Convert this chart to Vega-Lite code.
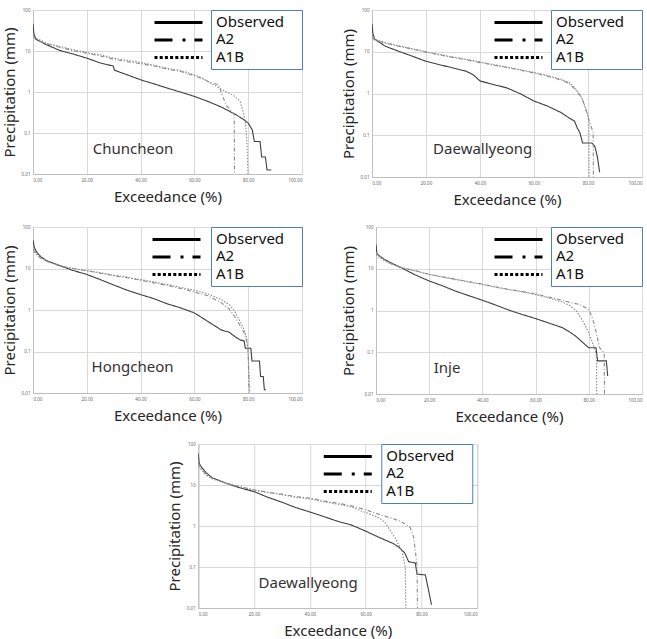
{
  "$schema": "https://vega.github.io/schema/vega-lite/v6.json",
  "background": "white",
  "padding": {"left": 1, "top": 6, "right": 0, "bottom": 0},
  "spacing": 15,
  "center": true,
  "resolve": {"scale": {"color": "independent", "strokeDash": "independent"}, "legend": {"color": "independent", "strokeDash": "independent"}},
  "config": {
    "font": "Noto Sans",
    "view": {"stroke": "#bfbfbf", "strokeWidth": 1},
    "axis": {"domainColor": "#bfbfbf", "gridColor": "#d9d9d9", "ticks": false, "labelOverlap": false, "labelFontSize": 4.5, "labelColor": "#666666", "labelPadding": 3, "titleFontSize": 15, "titleFontWeight": "normal", "titleColor": "#262626"},
    "axisX": {"titlePadding": 8},
    "axisY": {"titlePadding": 4},
    "legend": {"labelFont": "Noto Sans", "labelFontSize": 15, "labelColor": "#111111", "rowPadding": 1.5}
  },
  "datasets": {
    "curves": [
      {"p":1,"s":"Observed","x":0,"y":46},{"p":1,"s":"Observed","x":0.3,"y":27},{"p":1,"s":"Observed","x":1,"y":19.5},{"p":1,"s":"Observed","x":5,"y":14.2},{"p":1,"s":"Observed","x":10,"y":10.3},{"p":1,"s":"Observed","x":15,"y":8.4},{"p":1,"s":"Observed","x":20,"y":6.7},{"p":1,"s":"Observed","x":25,"y":5.1},{"p":1,"s":"Observed","x":29.8,"y":4.3},{"p":1,"s":"Observed","x":30.3,"y":3.4},{"p":1,"s":"Observed","x":35,"y":2.63},{"p":1,"s":"Observed","x":40,"y":1.98},{"p":1,"s":"Observed","x":45,"y":1.58},{"p":1,"s":"Observed","x":50,"y":1.24},{"p":1,"s":"Observed","x":55,"y":0.99},{"p":1,"s":"Observed","x":60,"y":0.78},{"p":1,"s":"Observed","x":65,"y":0.59},{"p":1,"s":"Observed","x":70,"y":0.43},{"p":1,"s":"Observed","x":75,"y":0.29},{"p":1,"s":"Observed","x":78,"y":0.22},{"p":1,"s":"Observed","x":80,"y":0.175},{"p":1,"s":"Observed","x":81.5,"y":0.12},{"p":1,"s":"Observed","x":82.3,"y":0.062},{"p":1,"s":"Observed","x":84.4,"y":0.062},{"p":1,"s":"Observed","x":85,"y":0.026},{"p":1,"s":"Observed","x":86.4,"y":0.026},{"p":1,"s":"Observed","x":87,"y":0.0125},{"p":1,"s":"Observed","x":88.6,"y":0.0125},
      {"p":1,"s":"A2","x":0,"y":24},{"p":1,"s":"A2","x":1,"y":19},{"p":1,"s":"A2","x":5,"y":15},{"p":1,"s":"A2","x":10,"y":12.3},{"p":1,"s":"A2","x":15,"y":10.2},{"p":1,"s":"A2","x":20,"y":8.8},{"p":1,"s":"A2","x":25,"y":7.6},{"p":1,"s":"A2","x":30,"y":6.3},{"p":1,"s":"A2","x":35,"y":5.5},{"p":1,"s":"A2","x":40,"y":4.9},{"p":1,"s":"A2","x":45,"y":4.3},{"p":1,"s":"A2","x":50,"y":3.6},{"p":1,"s":"A2","x":55,"y":3.15},{"p":1,"s":"A2","x":60,"y":2.5},{"p":1,"s":"A2","x":63,"y":2.1},{"p":1,"s":"A2","x":66,"y":1.7},{"p":1,"s":"A2","x":69,"y":1.5},{"p":1,"s":"A2","x":70.5,"y":0.78},{"p":1,"s":"A2","x":72,"y":0.46},{"p":1,"s":"A2","x":74,"y":0.33},{"p":1,"s":"A2","x":74.8,"y":0.28},{"p":1,"s":"A2","x":74.9,"y":0.01},
      {"p":1,"s":"A1B","x":0,"y":27},{"p":1,"s":"A1B","x":1,"y":21},{"p":1,"s":"A1B","x":5,"y":15.5},{"p":1,"s":"A1B","x":10,"y":12.9},{"p":1,"s":"A1B","x":15,"y":10.7},{"p":1,"s":"A1B","x":20,"y":9.2},{"p":1,"s":"A1B","x":25,"y":8.1},{"p":1,"s":"A1B","x":30,"y":6.7},{"p":1,"s":"A1B","x":35,"y":5.9},{"p":1,"s":"A1B","x":40,"y":5.25},{"p":1,"s":"A1B","x":45,"y":4.5},{"p":1,"s":"A1B","x":50,"y":3.8},{"p":1,"s":"A1B","x":55,"y":3.35},{"p":1,"s":"A1B","x":60,"y":2.6},{"p":1,"s":"A1B","x":63,"y":2.2},{"p":1,"s":"A1B","x":66,"y":1.65},{"p":1,"s":"A1B","x":70,"y":1.17},{"p":1,"s":"A1B","x":73,"y":0.93},{"p":1,"s":"A1B","x":75,"y":0.78},{"p":1,"s":"A1B","x":77,"y":0.59},{"p":1,"s":"A1B","x":78.3,"y":0.3},{"p":1,"s":"A1B","x":79,"y":0.17},{"p":1,"s":"A1B","x":79.5,"y":0.068},{"p":1,"s":"A1B","x":79.9,"y":0.01},

      {"p":2,"s":"Observed","x":0,"y":47},{"p":2,"s":"Observed","x":0.3,"y":28},{"p":2,"s":"Observed","x":1,"y":20},{"p":2,"s":"Observed","x":5,"y":13.5},{"p":2,"s":"Observed","x":10,"y":10.2},{"p":2,"s":"Observed","x":15,"y":7.8},{"p":2,"s":"Observed","x":20,"y":5.9},{"p":2,"s":"Observed","x":25,"y":4.9},{"p":2,"s":"Observed","x":30,"y":4.1},{"p":2,"s":"Observed","x":35,"y":3.4},{"p":2,"s":"Observed","x":37.5,"y":2.8},{"p":2,"s":"Observed","x":40,"y":2.0},{"p":2,"s":"Observed","x":45,"y":1.64},{"p":2,"s":"Observed","x":50,"y":1.36},{"p":2,"s":"Observed","x":55,"y":0.98},{"p":2,"s":"Observed","x":60,"y":0.66},{"p":2,"s":"Observed","x":65,"y":0.5},{"p":2,"s":"Observed","x":70,"y":0.35},{"p":2,"s":"Observed","x":73,"y":0.26},{"p":2,"s":"Observed","x":75,"y":0.22},{"p":2,"s":"Observed","x":76,"y":0.15},{"p":2,"s":"Observed","x":77,"y":0.115},{"p":2,"s":"Observed","x":78,"y":0.065},{"p":2,"s":"Observed","x":81.5,"y":0.065},{"p":2,"s":"Observed","x":82.5,"y":0.055},{"p":2,"s":"Observed","x":83.5,"y":0.03},{"p":2,"s":"Observed","x":84.3,"y":0.013},
      {"p":2,"s":"A2","x":0,"y":22},{"p":2,"s":"A2","x":1,"y":19},{"p":2,"s":"A2","x":5,"y":16},{"p":2,"s":"A2","x":10,"y":13.5},{"p":2,"s":"A2","x":15,"y":11.5},{"p":2,"s":"A2","x":20,"y":9.8},{"p":2,"s":"A2","x":25,"y":8.4},{"p":2,"s":"A2","x":30,"y":7.3},{"p":2,"s":"A2","x":35,"y":6.4},{"p":2,"s":"A2","x":40,"y":5.5},{"p":2,"s":"A2","x":45,"y":4.8},{"p":2,"s":"A2","x":50,"y":4.2},{"p":2,"s":"A2","x":55,"y":3.6},{"p":2,"s":"A2","x":60,"y":3.1},{"p":2,"s":"A2","x":65,"y":2.6},{"p":2,"s":"A2","x":70,"y":2.1},{"p":2,"s":"A2","x":73,"y":1.75},{"p":2,"s":"A2","x":75,"y":1.3},{"p":2,"s":"A2","x":77,"y":0.9},{"p":2,"s":"A2","x":78,"y":0.7},{"p":2,"s":"A2","x":79,"y":0.45},{"p":2,"s":"A2","x":80,"y":0.28},{"p":2,"s":"A2","x":81,"y":0.17},{"p":2,"s":"A2","x":81.9,"y":0.12},{"p":2,"s":"A2","x":82,"y":0.01},
      {"p":2,"s":"A1B","x":0,"y":25},{"p":2,"s":"A1B","x":1,"y":20},{"p":2,"s":"A1B","x":5,"y":16.5},{"p":2,"s":"A1B","x":10,"y":13.8},{"p":2,"s":"A1B","x":15,"y":11.8},{"p":2,"s":"A1B","x":20,"y":10},{"p":2,"s":"A1B","x":25,"y":8.6},{"p":2,"s":"A1B","x":30,"y":7.5},{"p":2,"s":"A1B","x":35,"y":6.6},{"p":2,"s":"A1B","x":40,"y":5.7},{"p":2,"s":"A1B","x":45,"y":4.9},{"p":2,"s":"A1B","x":50,"y":4.3},{"p":2,"s":"A1B","x":55,"y":3.7},{"p":2,"s":"A1B","x":60,"y":3.2},{"p":2,"s":"A1B","x":65,"y":2.7},{"p":2,"s":"A1B","x":70,"y":2.2},{"p":2,"s":"A1B","x":73,"y":1.85},{"p":2,"s":"A1B","x":75,"y":1.4},{"p":2,"s":"A1B","x":77,"y":0.95},{"p":2,"s":"A1B","x":78,"y":0.72},{"p":2,"s":"A1B","x":79,"y":0.46},{"p":2,"s":"A1B","x":80,"y":0.3},{"p":2,"s":"A1B","x":80.3,"y":0.2},{"p":2,"s":"A1B","x":80.4,"y":0.01},

      {"p":3,"s":"Observed","x":0,"y":48},{"p":3,"s":"Observed","x":0.5,"y":32},{"p":3,"s":"Observed","x":1.5,"y":24},{"p":3,"s":"Observed","x":3,"y":19},{"p":3,"s":"Observed","x":5,"y":15.5},{"p":3,"s":"Observed","x":10,"y":11.7},{"p":3,"s":"Observed","x":15,"y":8.9},{"p":3,"s":"Observed","x":20,"y":7.2},{"p":3,"s":"Observed","x":25,"y":5.4},{"p":3,"s":"Observed","x":30,"y":4.0},{"p":3,"s":"Observed","x":35,"y":3.0},{"p":3,"s":"Observed","x":40,"y":2.35},{"p":3,"s":"Observed","x":45,"y":1.87},{"p":3,"s":"Observed","x":50,"y":1.4},{"p":3,"s":"Observed","x":55,"y":1.12},{"p":3,"s":"Observed","x":60,"y":0.85},{"p":3,"s":"Observed","x":65,"y":0.53},{"p":3,"s":"Observed","x":70,"y":0.33},{"p":3,"s":"Observed","x":73,"y":0.29},{"p":3,"s":"Observed","x":75,"y":0.23},{"p":3,"s":"Observed","x":77,"y":0.19},{"p":3,"s":"Observed","x":78.5,"y":0.18},{"p":3,"s":"Observed","x":78.9,"y":0.12},{"p":3,"s":"Observed","x":81,"y":0.12},{"p":3,"s":"Observed","x":81.4,"y":0.059},{"p":3,"s":"Observed","x":84.2,"y":0.059},{"p":3,"s":"Observed","x":84.6,"y":0.025},{"p":3,"s":"Observed","x":85.6,"y":0.025},{"p":3,"s":"Observed","x":86,"y":0.012},{"p":3,"s":"Observed","x":86.6,"y":0.012},
      {"p":3,"s":"A2","x":0,"y":29},{"p":3,"s":"A2","x":1,"y":22},{"p":3,"s":"A2","x":3,"y":17.5},{"p":3,"s":"A2","x":5,"y":15},{"p":3,"s":"A2","x":10,"y":11.5},{"p":3,"s":"A2","x":15,"y":10},{"p":3,"s":"A2","x":20,"y":8.8},{"p":3,"s":"A2","x":25,"y":7.7},{"p":3,"s":"A2","x":30,"y":6.7},{"p":3,"s":"A2","x":35,"y":6.0},{"p":3,"s":"A2","x":40,"y":5.2},{"p":3,"s":"A2","x":45,"y":4.5},{"p":3,"s":"A2","x":50,"y":3.9},{"p":3,"s":"A2","x":55,"y":3.3},{"p":3,"s":"A2","x":60,"y":2.7},{"p":3,"s":"A2","x":65,"y":2.2},{"p":3,"s":"A2","x":70,"y":1.5},{"p":3,"s":"A2","x":73,"y":1.05},{"p":3,"s":"A2","x":75,"y":0.7},{"p":3,"s":"A2","x":77,"y":0.42},{"p":3,"s":"A2","x":78.5,"y":0.28},{"p":3,"s":"A2","x":79.5,"y":0.17},{"p":3,"s":"A2","x":80,"y":0.1},{"p":3,"s":"A2","x":80.3,"y":0.01},
      {"p":3,"s":"A1B","x":0,"y":35},{"p":3,"s":"A1B","x":1,"y":24},{"p":3,"s":"A1B","x":3,"y":18},{"p":3,"s":"A1B","x":5,"y":15.5},{"p":3,"s":"A1B","x":10,"y":11.5},{"p":3,"s":"A1B","x":15,"y":10},{"p":3,"s":"A1B","x":20,"y":8.9},{"p":3,"s":"A1B","x":25,"y":7.9},{"p":3,"s":"A1B","x":30,"y":6.9},{"p":3,"s":"A1B","x":35,"y":6.2},{"p":3,"s":"A1B","x":40,"y":5.4},{"p":3,"s":"A1B","x":45,"y":4.75},{"p":3,"s":"A1B","x":50,"y":4.1},{"p":3,"s":"A1B","x":55,"y":3.5},{"p":3,"s":"A1B","x":60,"y":3.0},{"p":3,"s":"A1B","x":65,"y":2.45},{"p":3,"s":"A1B","x":70,"y":1.78},{"p":3,"s":"A1B","x":73,"y":1.35},{"p":3,"s":"A1B","x":75,"y":0.93},{"p":3,"s":"A1B","x":77,"y":0.53},{"p":3,"s":"A1B","x":78.5,"y":0.33},{"p":3,"s":"A1B","x":79.5,"y":0.21},{"p":3,"s":"A1B","x":80,"y":0.08},{"p":3,"s":"A1B","x":80.6,"y":0.01},

      {"p":4,"s":"Observed","x":0,"y":38},{"p":4,"s":"Observed","x":0.3,"y":24},{"p":4,"s":"Observed","x":1,"y":21},{"p":4,"s":"Observed","x":3,"y":17},{"p":4,"s":"Observed","x":5,"y":14.5},{"p":4,"s":"Observed","x":9.6,"y":10.5},{"p":4,"s":"Observed","x":15,"y":7.0},{"p":4,"s":"Observed","x":20,"y":5.1},{"p":4,"s":"Observed","x":25,"y":3.9},{"p":4,"s":"Observed","x":30,"y":2.9},{"p":4,"s":"Observed","x":35,"y":2.25},{"p":4,"s":"Observed","x":40,"y":1.76},{"p":4,"s":"Observed","x":45,"y":1.35},{"p":4,"s":"Observed","x":50,"y":1.02},{"p":4,"s":"Observed","x":55,"y":0.8},{"p":4,"s":"Observed","x":60,"y":0.64},{"p":4,"s":"Observed","x":65,"y":0.5},{"p":4,"s":"Observed","x":70,"y":0.39},{"p":4,"s":"Observed","x":72,"y":0.33},{"p":4,"s":"Observed","x":75,"y":0.245},{"p":4,"s":"Observed","x":77,"y":0.19},{"p":4,"s":"Observed","x":78,"y":0.165},{"p":4,"s":"Observed","x":80,"y":0.128},{"p":4,"s":"Observed","x":82.7,"y":0.128},{"p":4,"s":"Observed","x":83.3,"y":0.062},{"p":4,"s":"Observed","x":86.6,"y":0.062},{"p":4,"s":"Observed","x":87.1,"y":0.027},
      {"p":4,"s":"A2","x":0,"y":25},{"p":4,"s":"A2","x":1,"y":21},{"p":4,"s":"A2","x":3,"y":16.5},{"p":4,"s":"A2","x":5,"y":14},{"p":4,"s":"A2","x":9.6,"y":10.7},{"p":4,"s":"A2","x":15,"y":8.9},{"p":4,"s":"A2","x":20,"y":7.4},{"p":4,"s":"A2","x":25,"y":6.4},{"p":4,"s":"A2","x":30,"y":5.6},{"p":4,"s":"A2","x":35,"y":4.9},{"p":4,"s":"A2","x":40,"y":4.3},{"p":4,"s":"A2","x":45,"y":3.7},{"p":4,"s":"A2","x":50,"y":3.2},{"p":4,"s":"A2","x":55,"y":2.85},{"p":4,"s":"A2","x":60,"y":2.5},{"p":4,"s":"A2","x":65,"y":2.1},{"p":4,"s":"A2","x":70,"y":1.75},{"p":4,"s":"A2","x":73,"y":1.55},{"p":4,"s":"A2","x":76.5,"y":1.4},{"p":4,"s":"A2","x":78.5,"y":1.2},{"p":4,"s":"A2","x":80.2,"y":1.0},{"p":4,"s":"A2","x":81,"y":0.75},{"p":4,"s":"A2","x":82.1,"y":0.46},{"p":4,"s":"A2","x":83,"y":0.26},{"p":4,"s":"A2","x":84,"y":0.13},{"p":4,"s":"A2","x":85.5,"y":0.1},{"p":4,"s":"A2","x":85.8,"y":0.09},{"p":4,"s":"A2","x":85.9,"y":0.01},
      {"p":4,"s":"A1B","x":0,"y":22},{"p":4,"s":"A1B","x":1,"y":19},{"p":4,"s":"A1B","x":3,"y":16},{"p":4,"s":"A1B","x":5,"y":13.5},{"p":4,"s":"A1B","x":9.6,"y":10.5},{"p":4,"s":"A1B","x":15,"y":8.8},{"p":4,"s":"A1B","x":20,"y":7.3},{"p":4,"s":"A1B","x":25,"y":6.3},{"p":4,"s":"A1B","x":30,"y":5.5},{"p":4,"s":"A1B","x":35,"y":4.8},{"p":4,"s":"A1B","x":40,"y":4.2},{"p":4,"s":"A1B","x":45,"y":3.6},{"p":4,"s":"A1B","x":50,"y":3.15},{"p":4,"s":"A1B","x":55,"y":2.8},{"p":4,"s":"A1B","x":60,"y":2.4},{"p":4,"s":"A1B","x":65,"y":2.0},{"p":4,"s":"A1B","x":70,"y":1.6},{"p":4,"s":"A1B","x":73,"y":1.3},{"p":4,"s":"A1B","x":75.2,"y":1.0},{"p":4,"s":"A1B","x":77.7,"y":0.57},{"p":4,"s":"A1B","x":80.2,"y":0.27},{"p":4,"s":"A1B","x":82.1,"y":0.128},{"p":4,"s":"A1B","x":82.9,"y":0.08},{"p":4,"s":"A1B","x":83,"y":0.01},

      {"p":5,"s":"Observed","x":0,"y":59},{"p":5,"s":"Observed","x":0.3,"y":34},{"p":5,"s":"Observed","x":1,"y":28},{"p":5,"s":"Observed","x":3,"y":19.5},{"p":5,"s":"Observed","x":5,"y":15},{"p":5,"s":"Observed","x":10,"y":11},{"p":5,"s":"Observed","x":15,"y":8.5},{"p":5,"s":"Observed","x":20,"y":6.9},{"p":5,"s":"Observed","x":25,"y":5.0},{"p":5,"s":"Observed","x":30,"y":3.8},{"p":5,"s":"Observed","x":35,"y":2.8},{"p":5,"s":"Observed","x":40,"y":2.2},{"p":5,"s":"Observed","x":45,"y":1.7},{"p":5,"s":"Observed","x":50,"y":1.3},{"p":5,"s":"Observed","x":55,"y":1.05},{"p":5,"s":"Observed","x":60,"y":0.75},{"p":5,"s":"Observed","x":65,"y":0.52},{"p":5,"s":"Observed","x":70,"y":0.37},{"p":5,"s":"Observed","x":72,"y":0.3},{"p":5,"s":"Observed","x":74,"y":0.22},{"p":5,"s":"Observed","x":75.4,"y":0.135},{"p":5,"s":"Observed","x":77.8,"y":0.125},{"p":5,"s":"Observed","x":78.4,"y":0.067},{"p":5,"s":"Observed","x":81.4,"y":0.064},{"p":5,"s":"Observed","x":82.6,"y":0.026},{"p":5,"s":"Observed","x":83.6,"y":0.012},
      {"p":5,"s":"A2","x":0,"y":34},{"p":5,"s":"A2","x":1,"y":25.5},{"p":5,"s":"A2","x":3,"y":17.7},{"p":5,"s":"A2","x":5,"y":14.6},{"p":5,"s":"A2","x":10,"y":11},{"p":5,"s":"A2","x":15,"y":9.1},{"p":5,"s":"A2","x":20,"y":7.6},{"p":5,"s":"A2","x":25,"y":6.7},{"p":5,"s":"A2","x":30,"y":6.0},{"p":5,"s":"A2","x":35,"y":5.2},{"p":5,"s":"A2","x":40,"y":4.8},{"p":5,"s":"A2","x":45,"y":4.1},{"p":5,"s":"A2","x":50,"y":3.6},{"p":5,"s":"A2","x":55,"y":3.1},{"p":5,"s":"A2","x":60,"y":2.5},{"p":5,"s":"A2","x":65,"y":1.9},{"p":5,"s":"A2","x":70,"y":1.5},{"p":5,"s":"A2","x":73,"y":1.25},{"p":5,"s":"A2","x":76,"y":0.92},{"p":5,"s":"A2","x":77.2,"y":0.53},{"p":5,"s":"A2","x":77.8,"y":0.25},{"p":5,"s":"A2","x":78.4,"y":0.11},{"p":5,"s":"A2","x":78.6,"y":0.01},
      {"p":5,"s":"A1B","x":0,"y":28},{"p":5,"s":"A1B","x":1,"y":24},{"p":5,"s":"A1B","x":3,"y":17},{"p":5,"s":"A1B","x":5,"y":14.3},{"p":5,"s":"A1B","x":10,"y":11},{"p":5,"s":"A1B","x":15,"y":9},{"p":5,"s":"A1B","x":20,"y":7.5},{"p":5,"s":"A1B","x":25,"y":6.5},{"p":5,"s":"A1B","x":30,"y":5.8},{"p":5,"s":"A1B","x":35,"y":5.0},{"p":5,"s":"A1B","x":40,"y":4.6},{"p":5,"s":"A1B","x":45,"y":3.9},{"p":5,"s":"A1B","x":50,"y":3.4},{"p":5,"s":"A1B","x":55,"y":2.9},{"p":5,"s":"A1B","x":58.6,"y":2.3},{"p":5,"s":"A1B","x":62,"y":1.9},{"p":5,"s":"A1B","x":65,"y":1.55},{"p":5,"s":"A1B","x":67,"y":1.2},{"p":5,"s":"A1B","x":70.5,"y":0.52},{"p":5,"s":"A1B","x":73,"y":0.25},{"p":5,"s":"A1B","x":74.2,"y":0.1},{"p":5,"s":"A1B","x":74.4,"y":0.01}
    ]
  },
  "vconcat": [
    {
      "hconcat": [
        {
          "width": 269, "height": 164,
          "resolve": {"scale": {"strokeDash": "independent"}, "legend": {"strokeDash": "independent"}},
          "layer": [
            {
              "data": {"name": "curves"},
              "transform": [{"filter": "datum.p == 1"}],
              "mark": {"type": "line", "clip": true, "strokeWidth": 1.1},
              "encoding": {
                "x": {"field": "x", "type": "quantitative", "scale": {"domain": [0, 100], "nice": false}, "axis": {"values": [0,10,20,30,40,50,60,70,80,90,100], "format": ".2f", "title": "Exceedance (%)"}},
                "y": {"field": "y", "type": "quantitative", "scale": {"type": "log", "domain": [0.01, 100]}, "axis": {"values": [0.01,0.1,1,10,100], "format": "~g", "title": "Precipitation (mm)"}},
                "color": {"field": "s", "type": "nominal", "scale": {"domain": ["Observed","A2","A1B"], "range": ["#3f3f3f","#8c8c8c","#8c8c8c"]},
                  "legend": {"title": null, "orient": "top-right", "offset": 0, "padding": 4, "symbolType": "circle", "symbolSize": 4, "symbolOpacity": 0, "symbolStrokeWidth": 0, "symbolOffset": 74, "labelOffset": -88, "strokeColor": "#4f7fbf", "fillColor": "white"}},
                "strokeDash": {"field": "s", "type": "nominal", "scale": {"domain": ["Observed","A2","A1B"], "range": [[1,0],[4,2,1,2],[1.5,1.5]]}, "legend": null}
              }
            },
            {
              "data": {"name": "curves"},
              "transform": [{"filter": "false"}],
              "mark": {"type": "line", "color": "black", "strokeWidth": 3},
              "encoding": {
                "x": {"field": "x", "type": "quantitative"},
                "y": {"field": "y", "type": "quantitative"},
                "strokeDash": {"field": "s", "type": "nominal", "scale": {"domain": ["Observed","A2","A1B"], "range": [[1,0],[18,10,3,9],[3,2.2]]},
                  "legend": {"title": null, "orient": "none", "legendX": 138, "legendY": 5, "padding": 0, "symbolType": "M-6,0H6", "symbolSize": 64, "symbolStrokeWidth": 3, "symbolStrokeColor": "black", "symbolFillColor": "transparent", "labelExpr": "''"}}
              }
            },
            {
              "data": {"values": [{"station": "Chuncheon"}]},
              "mark": {"type": "text", "fontSize": 15, "color": "#333333"},
              "encoding": {"x": {"datum": 37.2}, "y": {"datum": 0.041}, "text": {"field": "station"}}
            }
          ]
        },
        {
          "width": 270, "height": 167,
          "resolve": {"scale": {"strokeDash": "independent"}, "legend": {"strokeDash": "independent"}},
          "layer": [
            {
              "data": {"name": "curves"},
              "transform": [{"filter": "datum.p == 2"}],
              "mark": {"type": "line", "clip": true, "strokeWidth": 1.1},
              "encoding": {
                "x": {"field": "x", "type": "quantitative", "scale": {"domain": [0, 100], "nice": false}, "axis": {"values": [0,10,20,30,40,50,60,70,80,90,100], "format": ".2f", "title": "Exceedance (%)"}},
                "y": {"field": "y", "type": "quantitative", "scale": {"type": "log", "domain": [0.01, 100]}, "axis": {"values": [0.01,0.1,1,10,100], "format": "~g", "title": "Precipitation (mm)"}},
                "color": {"field": "s", "type": "nominal", "scale": {"domain": ["Observed","A2","A1B"], "range": ["#3f3f3f","#8c8c8c","#8c8c8c"]},
                  "legend": {"title": null, "orient": "top-right", "offset": 0, "padding": 4, "symbolType": "circle", "symbolSize": 4, "symbolOpacity": 0, "symbolStrokeWidth": 0, "symbolOffset": 74, "labelOffset": -88, "strokeColor": "#4f7fbf", "fillColor": "white"}},
                "strokeDash": {"field": "s", "type": "nominal", "scale": {"domain": ["Observed","A2","A1B"], "range": [[1,0],[4,2,1,2],[1.5,1.5]]}, "legend": null}
              }
            },
            {
              "data": {"name": "curves"},
              "transform": [{"filter": "false"}],
              "mark": {"type": "line", "color": "black", "strokeWidth": 3},
              "encoding": {
                "x": {"field": "x", "type": "quantitative"},
                "y": {"field": "y", "type": "quantitative"},
                "strokeDash": {"field": "s", "type": "nominal", "scale": {"domain": ["Observed","A2","A1B"], "range": [[1,0],[18,10,3,9],[3,2.2]]},
                  "legend": {"title": null, "orient": "none", "legendX": 139, "legendY": 5, "padding": 0, "symbolType": "M-6,0H6", "symbolSize": 64, "symbolStrokeWidth": 3, "symbolStrokeColor": "black", "symbolFillColor": "transparent", "labelExpr": "''"}}
              }
            },
            {
              "data": {"values": [{"station": "Daewallyeong"}]},
              "mark": {"type": "text", "fontSize": 15, "color": "#333333"},
              "encoding": {"x": {"datum": 41}, "y": {"datum": 0.047}, "text": {"field": "station"}}
            }
          ]
        }
      ],
      "spacing": 37,
      "resolve": {"scale": {"color": "independent", "strokeDash": "independent"}, "legend": {"color": "independent", "strokeDash": "independent"}}
    },
    {
      "hconcat": [
        {
          "width": 269, "height": 166,
          "resolve": {"scale": {"strokeDash": "independent"}, "legend": {"strokeDash": "independent"}},
          "layer": [
            {
              "data": {"name": "curves"},
              "transform": [{"filter": "datum.p == 3"}],
              "mark": {"type": "line", "clip": true, "strokeWidth": 1.1},
              "encoding": {
                "x": {"field": "x", "type": "quantitative", "scale": {"domain": [0, 100], "nice": false}, "axis": {"values": [0,10,20,30,40,50,60,70,80,90,100], "format": ".2f", "title": "Exceedance (%)"}},
                "y": {"field": "y", "type": "quantitative", "scale": {"type": "log", "domain": [0.01, 100]}, "axis": {"values": [0.01,0.1,1,10,100], "format": "~g", "title": "Precipitation (mm)"}},
                "color": {"field": "s", "type": "nominal", "scale": {"domain": ["Observed","A2","A1B"], "range": ["#3f3f3f","#8c8c8c","#8c8c8c"]},
                  "legend": {"title": null, "orient": "top-right", "offset": 0, "padding": 4, "symbolType": "circle", "symbolSize": 4, "symbolOpacity": 0, "symbolStrokeWidth": 0, "symbolOffset": 74, "labelOffset": -88, "strokeColor": "#4f7fbf", "fillColor": "white"}},
                "strokeDash": {"field": "s", "type": "nominal", "scale": {"domain": ["Observed","A2","A1B"], "range": [[1,0],[4,2,1,2],[1.5,1.5]]}, "legend": null}
              }
            },
            {
              "data": {"name": "curves"},
              "transform": [{"filter": "false"}],
              "mark": {"type": "line", "color": "black", "strokeWidth": 3},
              "encoding": {
                "x": {"field": "x", "type": "quantitative"},
                "y": {"field": "y", "type": "quantitative"},
                "strokeDash": {"field": "s", "type": "nominal", "scale": {"domain": ["Observed","A2","A1B"], "range": [[1,0],[18,10,3,9],[3,2.2]]},
                  "legend": {"title": null, "orient": "none", "legendX": 136, "legendY": 5, "padding": 0, "symbolType": "M-6,0H6", "symbolSize": 64, "symbolStrokeWidth": 3, "symbolStrokeColor": "black", "symbolFillColor": "transparent", "labelExpr": "''"}}
              }
            },
            {
              "data": {"values": [{"station": "Hongcheon"}]},
              "mark": {"type": "text", "fontSize": 15, "color": "#333333"},
              "encoding": {"x": {"datum": 37}, "y": {"datum": 0.043}, "text": {"field": "station"}}
            }
          ]
        },
        {
          "width": 266, "height": 167,
          "resolve": {"scale": {"strokeDash": "independent"}, "legend": {"strokeDash": "independent"}},
          "layer": [
            {
              "data": {"name": "curves"},
              "transform": [{"filter": "datum.p == 4"}],
              "mark": {"type": "line", "clip": true, "strokeWidth": 1.1},
              "encoding": {
                "x": {"field": "x", "type": "quantitative", "scale": {"domain": [0, 100], "nice": false}, "axis": {"values": [0,10,20,30,40,50,60,70,80,90,100], "format": ".2f", "title": "Exceedance (%)"}},
                "y": {"field": "y", "type": "quantitative", "scale": {"type": "log", "domain": [0.01, 100]}, "axis": {"values": [0.01,0.1,1,10,100], "format": "~g", "title": "Precipitation (mm)", "titlePadding": 8}},
                "color": {"field": "s", "type": "nominal", "scale": {"domain": ["Observed","A2","A1B"], "range": ["#3f3f3f","#8c8c8c","#8c8c8c"]},
                  "legend": {"title": null, "orient": "top-right", "offset": 0, "padding": 4, "symbolType": "circle", "symbolSize": 4, "symbolOpacity": 0, "symbolStrokeWidth": 0, "symbolOffset": 74, "labelOffset": -88, "strokeColor": "#4f7fbf", "fillColor": "white"}},
                "strokeDash": {"field": "s", "type": "nominal", "scale": {"domain": ["Observed","A2","A1B"], "range": [[1,0],[4,2,1,2],[1.5,1.5]]}, "legend": null}
              }
            },
            {
              "data": {"name": "curves"},
              "transform": [{"filter": "false"}],
              "mark": {"type": "line", "color": "black", "strokeWidth": 3},
              "encoding": {
                "x": {"field": "x", "type": "quantitative"},
                "y": {"field": "y", "type": "quantitative"},
                "strokeDash": {"field": "s", "type": "nominal", "scale": {"domain": ["Observed","A2","A1B"], "range": [[1,0],[18,10,3,9],[3,2.2]]},
                  "legend": {"title": null, "orient": "none", "legendX": 135, "legendY": 5, "padding": 0, "symbolType": "M-6,0H6", "symbolSize": 64, "symbolStrokeWidth": 3, "symbolStrokeColor": "black", "symbolFillColor": "transparent", "labelExpr": "''"}}
              }
            },
            {
              "data": {"values": [{"station": "Inje"}]},
              "mark": {"type": "text", "fontSize": 15, "color": "#333333"},
              "encoding": {"x": {"datum": 26.7}, "y": {"datum": 0.043}, "text": {"field": "station"}}
            }
          ]
        }
      ],
      "spacing": 37,
      "resolve": {"scale": {"color": "independent", "strokeDash": "independent"}, "legend": {"color": "independent", "strokeDash": "independent"}}
    },
    {
      "width": 279, "height": 164,
      "resolve": {"scale": {"strokeDash": "independent"}, "legend": {"strokeDash": "independent"}},
      "layer": [
        {
          "data": {"name": "curves"},
          "transform": [{"filter": "datum.p == 5"}],
          "mark": {"type": "line", "clip": true, "strokeWidth": 1.1},
          "encoding": {
            "x": {"field": "x", "type": "quantitative", "scale": {"domain": [0, 100], "nice": false}, "axis": {"values": [0,10,20,30,40,50,60,70,80,90,100], "format": ".2f", "title": "Exceedance (%)"}},
            "y": {"field": "y", "type": "quantitative", "scale": {"type": "log", "domain": [0.01, 100]}, "axis": {"values": [0.01,0.1,1,10,100], "format": "~g", "title": "Precipitation (mm)"}},
            "color": {"field": "s", "type": "nominal", "scale": {"domain": ["Observed","A2","A1B"], "range": ["#3f3f3f","#8c8c8c","#8c8c8c"]},
              "legend": {"title": null, "orient": "none", "legendX": 183, "legendY": 0, "padding": 4, "symbolType": "circle", "symbolSize": 4, "symbolOpacity": 0, "symbolStrokeWidth": 0, "symbolOffset": 74, "labelOffset": -88, "strokeColor": "#4f7fbf", "fillColor": "white"}},
            "strokeDash": {"field": "s", "type": "nominal", "scale": {"domain": ["Observed","A2","A1B"], "range": [[1,0],[4,2,1,2],[1.5,1.5]]}, "legend": null}
          }
        },
        {
          "data": {"name": "curves"},
          "transform": [{"filter": "false"}],
          "mark": {"type": "line", "color": "black", "strokeWidth": 3},
          "encoding": {
            "x": {"field": "x", "type": "quantitative"},
            "y": {"field": "y", "type": "quantitative"},
            "strokeDash": {"field": "s", "type": "nominal", "scale": {"domain": ["Observed","A2","A1B"], "range": [[1,0],[18,10,3,9],[3,2.2]]},
              "legend": {"title": null, "orient": "none", "legendX": 142, "legendY": 5, "padding": 0, "symbolType": "M-6,0H6", "symbolSize": 64, "symbolStrokeWidth": 3, "symbolStrokeColor": "black", "symbolFillColor": "transparent", "labelExpr": "''"}}
          }
        },
        {
          "data": {"values": [{"station": "Daewallyeong"}]},
          "mark": {"type": "text", "fontSize": 15, "color": "#333333"},
          "encoding": {"x": {"datum": 39.4}, "y": {"datum": 0.041}, "text": {"field": "station"}}
        }
      ]
    }
  ]
}
